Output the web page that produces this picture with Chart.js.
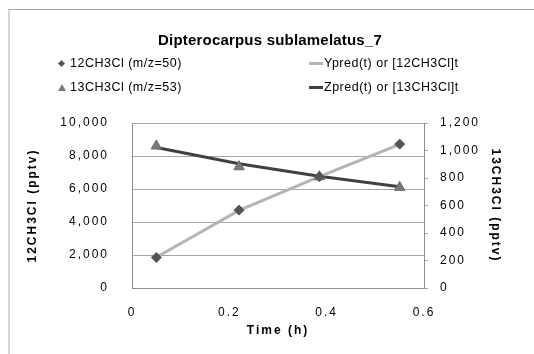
<!DOCTYPE html>
<html>
<head>
<meta charset="utf-8">
<script src="https://cdn.jsdelivr.net/npm/chart.js@4.4.1/dist/chart.umd.min.js"></script>
<style>
  body { margin: 0; background: #fff; font-family: 'Liberation Sans', Arial, sans-serif; }
  #wrap { position: relative; width: 534px; height: 354px; overflow: hidden; }
  #frame { position: absolute; left: 8px; top: 9px; right: -2px; bottom: -2px;
           border-top: 1px solid #a0a0a0; border-left: 2px solid #d4d4d4; }
  #title { position: absolute; left: 0; width: 540px; top: 31px; text-align: center;
           font-weight: bold; font-size: 15px; letter-spacing: 0.2px; color: #000; }
  #legend { position: absolute; left: 0; top: 0; }
  .item { position: absolute; font-size: 12.5px; letter-spacing: 0.5px; color: #000; white-space: nowrap; line-height: 14px; }
  .mk { display: inline-block; vertical-align: middle; margin-right: 4px; }
  canvas { position: absolute; left: 0; top: 0; }
</style>
</head>
<body>
<div id="wrap">
  <div id="frame"></div>
  <canvas id="chart-area" width="534" height="354"></canvas>
  <div id="title">Dipterocarpus sublamelatus_7</div>
  <div id="legend"></div>
</div>
<script>
// sampling times (h)
const timeH = [0.05, 0.22, 0.385, 0.55];
// observed values
const obs12 = [1850, 4720, 6740, 8720];
const obs13 = [1033, 882, 809, 732];
// model curves
const ypred = [1860, 4700, 6750, 8710];
const zpred = [1022, 903, 812, 736];

const yTicks = [0, 2000, 4000, 6000, 8000, 10000];
const y2Ticks = [0, 200, 400, 600, 800, 1000, 1200];

function pts(vals) {
    return timeH.map(function (t, i) { return { x: t, y: vals[i] }; });
}

// the original has wide letter spacing on the axis texts
const spacing = {
    id: 'spacing',
    beforeDraw: function (c) { c.ctx.letterSpacing = '2px'; },
};

var config = {
    type: 'scatter',
    data: {
        datasets: [
            {
                label: '12CH3Cl (m/z=50)',
                data: pts(obs12),
                yAxisID: 'y',
                pointStyle: 'rectRot',
                pointRadius: 5,
                backgroundColor: '#555555',
                borderColor: '#555555',
                showLine: false,
                order: 1,
            },
            {
                label: '13CH3Cl (m/z=53)',
                data: pts(obs13),
                yAxisID: 'y2',
                pointStyle: 'triangle',
                pointRadius: 6,
                backgroundColor: '#7a7a7a',
                borderColor: '#6a6a6a',
                showLine: false,
                order: 2,
            },
            {
                label: 'Ypred(t) or [12CH3Cl]t',
                data: pts(ypred),
                yAxisID: 'y',
                showLine: true,
                pointRadius: 0,
                borderColor: '#b4b4b4',
                borderWidth: 3,
                order: 3,
            },
            {
                label: 'Zpred(t) or [13CH3Cl]t',
                data: pts(zpred),
                yAxisID: 'y2',
                showLine: true,
                pointRadius: 0,
                borderColor: '#404040',
                borderWidth: 3,
                order: 4,
            },
        ],
    },
    plugins: [spacing],
    options: {
        responsive: false,
        animation: { duration: 0 },
        events: [],
        layout: { padding: { top: 123, left: 0, right: 0, bottom: 0 } },
        plugins: {
            legend: { display: false },
            tooltip: { enabled: false },
        },
        scales: {
            x: {
                type: 'linear',
                min: 0,
                max: 0.6,
                ticks: { stepSize: 0.2, color: '#000', padding: 9, font: { size: 12 } },
                grid: { display: false },
                border: { color: '#8c8c8c' },
                title: { display: true, text: 'Time (h)', color: '#000',
                         font: { size: 12, weight: 'bold' }, padding: { top: 4, bottom: 16 } },
                afterFit: function (s) { s.height = 66; },
            },
            y: {
                position: 'left',
                min: 0,
                max: 10000,
                afterBuildTicks: function (s) { s.ticks = yTicks.map(function (v) { return { value: v }; }); },
                ticks: { color: '#000', padding: 23, font: { size: 12 } },
                grid: { color: '#a6a6a6', drawTicks: false },
                border: { color: '#8c8c8c' },
                title: { display: true, text: '12CH3Cl (pptv)', color: '#000',
                         font: { size: 12, weight: 'bold' }, padding: { top: 25, bottom: 4 } },
                afterFit: function (s) { s.width = 132; },
            },
            y2: {
                position: 'right',
                min: 0,
                max: 1200,
                afterBuildTicks: function (s) { s.ticks = y2Ticks.map(function (v) { return { value: v }; }); },
                ticks: { color: '#000', padding: 12, font: { size: 12 } },
                grid: { drawOnChartArea: false, tickLength: 4, color: '#a6a6a6' },
                border: { color: '#8c8c8c' },
                title: { display: true, text: '13CH3Cl (pptv)', color: '#000',
                         font: { size: 12, weight: 'bold' }, padding: { top: 31, bottom: 4 } },
                afterFit: function (s) { s.width = 110; },
            },
        },
    },
};

var ctx = document.getElementById('chart-area').getContext('2d');
var chart = new Chart(ctx, config);

// legend in two columns like the original
var spots = [[58, 56], [58, 80], [309, 56], [309, 80]];
var legend = document.getElementById('legend');
chart.data.datasets.forEach(function (ds, i) {
    var el = document.createElement('div');
    el.className = 'item';
    el.style.left = spots[i][0] + 'px';
    el.style.top = spots[i][1] + 'px';
    var mk = document.createElement('span');
    mk.className = 'mk';
    if (ds.pointStyle === 'rectRot') {
        mk.style.cssText = 'width:5px;height:5px;background:' + ds.backgroundColor + ';transform:rotate(45deg);margin-left:1px;margin-right:6px;';
    } else if (ds.pointStyle === 'triangle') {
        mk.style.cssText = 'width:0;height:0;border-left:4px solid transparent;border-right:4px solid transparent;border-bottom:7px solid ' + ds.backgroundColor + ';margin-right:4px;';
    } else {
        mk.style.cssText = 'width:14px;height:3px;background:' + ds.borderColor + ';margin-right:1px;';
    }
    el.appendChild(mk);
    el.appendChild(document.createTextNode(ds.label));
    legend.appendChild(el);
});
</script>
</body>
</html>
